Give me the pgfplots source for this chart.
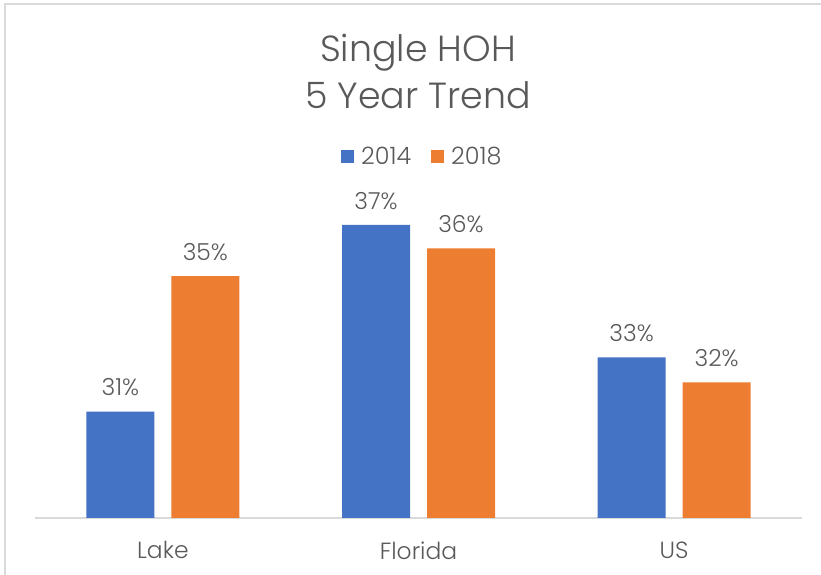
\documentclass[border=0pt]{standalone}
\usepackage{fontspec}
\setmainfont{Poppins Light}
\usepackage{pgfplots}
\pgfplotsset{compat=1.18}
\definecolor{cblue}{HTML}{4472C4}
\definecolor{corange}{HTML}{ED7D31}
\definecolor{txt}{HTML}{595959}
\definecolor{gridc}{HTML}{D9D9D9}
\begin{document}
\begin{tikzpicture}[x=1bp,y=1bp]
\path[use as bounding box] (0,0) rectangle (821,575);
\draw[gridc, line width=1.5bp] (5,0) -- (5,571) -- (821,571);
\node[text=txt, font=\fontsize{36.5}{47}\selectfont, align=center] at (418,503.5) {Single HOH\\5 Year Trend};
\begin{axis}[at={(35bp,57bp)}, anchor=south west, scale only axis,
  width=767bp, height=330bp,
  xmin=-0.5, xmax=2.5, ymin=28, ymax=38,
  ybar=17bp, bar width=68bp,
  /pgf/number format/assume math mode=true,
  axis x line*=bottom, axis y line=none,
  x axis line style={gridc, line width=1.5bp, -},
  xtick={0,1,2}, xticklabels={Lake,Florida,US},
  xtick style={draw=none}, major tick length=0pt,
  xticklabel style={text=txt, font=\fontsize{23.5}{27}\selectfont, yshift=-20bp},
  nodes near coords={\pgfmathprintnumber[fixed,precision=0]{\pgfplotspointmeta}\%},
  nodes near coords style={text=txt, font=\fontsize{23.5}{27}\selectfont, yshift=12bp},
  legend style={at={(0.505,1.094)}, anchor=center, draw=none, fill=none,
    legend columns=2, font=\fontsize{24}{27}\selectfont, text=txt,
    /tikz/every odd column/.append style={column sep=5bp},
    /tikz/every even column/.append style={column sep=18bp}},
  legend image code/.code={\fill[#1] (0bp,-6.5bp) rectangle (13bp,6.5bp);},
]
\addplot[fill=cblue, draw=none] coordinates {(0,31.22) (1,36.88) (2,32.87)};
\addplot[fill=corange, draw=none] coordinates {(0,35.33) (1,36.17) (2,32.11)};
\legend{2014,2018}
\end{axis}
\end{tikzpicture}
\end{document}
